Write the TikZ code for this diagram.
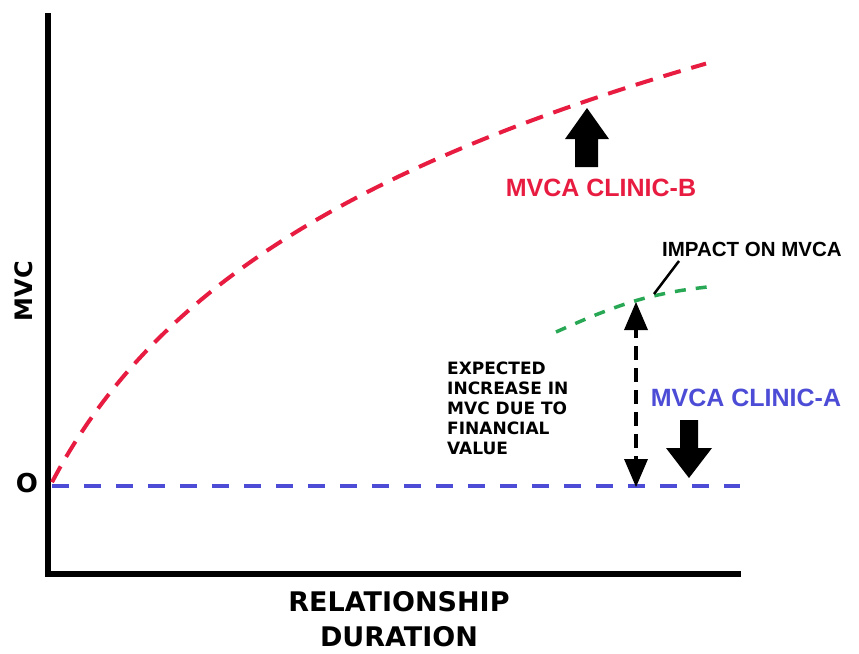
\documentclass[tikz,border=0pt]{standalone}
\usepackage{fontspec}
\setmainfont{Liberation Sans}
\newfontfamily\heavyfont{DejaVu Sans}[BoldFont={DejaVu Sans Bold}]
\begin{document}
\begin{tikzpicture}[x=1pt,y=-1pt,
  axisline/.style={line width=5.5pt,line cap=rect},
  curveB/.style={draw=clinicred,line width=4pt,dash pattern=on 18pt off 11pt},
  curveA/.style={draw=clinicblue,line width=3.5pt,dash pattern=on 17pt off 15pt},
  curveI/.style={draw=impactgreen,line width=3.5pt,dash pattern=on 11pt off 10pt},
  heavy/.style={font=\heavyfont\bfseries, text=black, inner sep=0pt},
  clinic/.style={font=\bfseries\fontsize{25}{28}\selectfont, inner sep=0pt},
  blockarrow/.style={fill=black, draw=none}]
\definecolor{clinicred}{RGB}{232,28,64}
\definecolor{clinicblue}{RGB}{76,76,214}
\definecolor{impactgreen}{RGB}{40,168,84}

\useasboundingbox[fill=white] (0,0) rectangle (859,653);

% axes
\coordinate (origin) at (48,574);
\coordinate (ytop) at (48,16);
\coordinate (xend) at (738,574);
\draw[axisline] (ytop) -- (origin) -- (xend);

% axis labels
\node[heavy, rotate=90, font=\heavyfont\bfseries\fontsize{24}{28}\selectfont] (mvc) at (24,291) {MVC};
\node[heavy, font=\heavyfont\bfseries\fontsize{26}{30}\selectfont] (zero) at (27,483) {O};
\node[heavy, font=\heavyfont\bfseries\fontsize{27}{35}\selectfont, align=center] (xlabel) at (399,619)
  {RELATIONSHIP\\DURATION};

% clinic A: flat line at zero
\coordinate (a0) at (52,486);
\coordinate (a1) at (740,486);
\draw[curveA] (a0) -- (a1);

% clinic B: logarithmic growth from the origin
\draw[curveB] plot[domain=52:706, samples=80, smooth]
  (\x, {486-222*ln(1+(\x-50)/115)});

% impact segment
\draw[curveI] plot[smooth, tension=0.6] coordinates {
  (556,332) (598,314) (638,300) (678,291) (716,286)};

% labels for clinic B
\fill[blockarrow] (575,167) -- (575,139) -- (565,139) -- (587,108)
  -- (609,139) -- (598,139) -- (598,167) -- cycle;
\node[clinic, text=clinicred] (labB) at (601,188) {MVCA CLINIC-B};

% labels for clinic A
\node[clinic, text=clinicblue] (labA) at (746,398) {MVCA CLINIC-A};
\fill[blockarrow] (680,420) -- (680,448) -- (666,448) -- (689,478)
  -- (712,448) -- (698,448) -- (698,420) -- cycle;

% impact annotation
\node[font=\bfseries\fontsize{20.5}{24}\selectfont, inner sep=0pt, anchor=west] (impact) at (662,249) {IMPACT ON MVCA};
\coordinate (pointerTail) at (679,261);
\coordinate (pointerHead) at (654,294);
\draw[line width=2.5pt] (pointerTail) -- (pointerHead);

% expected increase
\coordinate (gainTop) at (636,302);
\coordinate (gainBot) at (636,487);
\draw[line width=3.5pt, dash pattern=on 14pt off 8pt, shorten >=22pt, shorten <=22pt] (gainTop) -- (gainBot);
\fill[black] (gainTop) -- ++(-12,28) -- ++(24,0) -- cycle;
\fill[black] (gainBot) -- ++(-12,-28) -- ++(24,0) -- cycle;
\node[heavy, font=\heavyfont\bfseries\fontsize{17}{20}\selectfont, align=left, anchor=north west] (gainText) at (447,362)
  {EXPECTED\\INCREASE IN\\MVC DUE TO\\FINANCIAL\\VALUE};
\end{tikzpicture}
\end{document}
